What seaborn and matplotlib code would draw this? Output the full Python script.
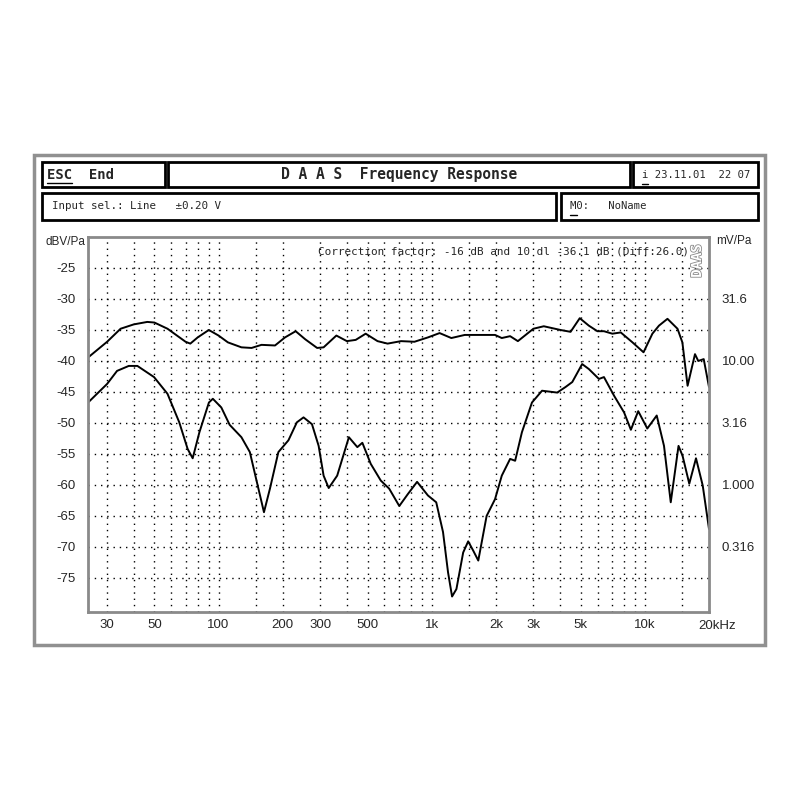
import numpy as np
import pandas as pd
import matplotlib
matplotlib.use("Agg")
import matplotlib.pyplot as plt
import matplotlib.patheffects as pe
from matplotlib.patches import Rectangle
from matplotlib.lines import Line2D
from matplotlib.ticker import FixedLocator, NullFormatter
import seaborn as sns

# =========================
# DATA
# =========================
upper_freq = [24.1, 30, 34.7, 40, 46.3, 50, 57.6, 70, 73.7, 79.8, 90, 100, 110.6, 128,
              142.8, 159, 184, 205, 230, 255, 290, 311, 357, 400, 440, 490, 557, 621,
              718, 830, 960, 1089, 1236, 1429, 1778, 1982, 2132, 2333, 2537, 3000, 3357,
              4020, 4483, 4950, 5460, 5990, 6430, 7040, 7710, 8750, 9860, 10850, 11650,
              12770, 14230, 15000, 15870, 17190, 17810, 18890, 20000]
upper_db = [-39.6, -36.9, -34.8, -34.1, -33.7, -33.8, -34.8, -36.9, -37.2, -36.2, -35.0,
            -35.9, -37.0, -37.8, -37.9, -37.4, -37.5, -36.2, -35.2, -36.5, -37.9, -37.8,
            -35.9, -36.8, -36.6, -35.6, -36.8, -37.2, -36.8, -36.9, -36.2, -35.5, -36.3,
            -35.8, -35.8, -35.8, -36.3, -36.0, -36.8, -34.8, -34.4, -35.0, -35.3, -33.1,
            -34.3, -35.2, -35.2, -35.6, -35.4, -37.0, -38.6, -35.6, -34.3, -33.2, -34.8,
            -37.0, -44.0, -38.9, -40.0, -39.7, -44.2]

lower_freq = [24.1, 30, 33.4, 37.9, 41.6, 49.8, 57.6, 65.4, 71.6, 75.6, 81.3, 90.1, 94,
              103, 112.7, 128, 140.2, 150.7, 163.3, 174.2, 190.8, 212.7, 233, 250.4,
              274.3, 294.8, 311, 328.7, 360.2, 408.7, 447.8, 472.8, 517.6, 577, 631.7,
              704.5, 771.9, 853.9, 960, 1050, 1130, 1193, 1246, 1306, 1405, 1483, 1566,
              1654, 1810, 1982, 2132, 2333, 2463, 2650, 2954, 3294, 3879, 4246, 4566,
              5080, 5460, 6090, 6430, 7170, 7990, 8600, 9310, 10270, 11370, 12300,
              13230, 14390, 15030, 16160, 17380, 18690, 20000]
lower_db = [-46.9, -43.7, -41.6, -40.8, -40.8, -42.6, -45.3, -49.9, -54.2, -55.7, -51.5,
            -46.7, -46.1, -47.5, -50.3, -52.3, -54.7, -59.3, -64.4, -60.6, -54.7, -52.8,
            -49.9, -49.1, -50.2, -53.7, -58.5, -60.5, -58.5, -52.3, -53.9, -53.2, -56.6,
            -59.3, -60.6, -63.4, -61.5, -59.5, -61.7, -62.8, -67.6, -74.1, -78.0, -76.8,
            -70.9, -69.1, -70.6, -72.2, -65.0, -62.3, -58.5, -55.8, -56.1, -51.5, -46.7,
            -44.8, -45.1, -44.2, -43.4, -40.5, -41.3, -42.9, -42.6, -45.6, -48.3, -51.1,
            -48.1, -50.9, -48.8, -53.7, -62.8, -53.7, -55.3, -59.8, -55.7, -60.1, -67.1]

x_ticks = [30, 50, 100, 200, 300, 500, 1000, 2000, 3000, 5000, 10000]
x_ticklabels = ["30", "50", "100", "200", "300", "500", "1k", "2k", "3k", "5k", "10k"]
x_grid = [30, 40, 50, 60, 70, 80, 90, 100, 150, 200, 300, 400, 500, 600, 700, 800, 900,
          1000, 1500, 2000, 3000, 4000, 5000, 6000, 7000, 8000, 9000, 10000, 15000]
y_ticks = [-25, -30, -35, -40, -45, -50, -55, -60, -65, -70, -75]
y_ticklabels = ["-25", "-30", "-35", "-40", "-45", "-50", "-55", "-60", "-65", "-70", "-75"]
mv_ticks = [-30, -40, -50, -60, -70]
mv_labels = ["31.6", "10.00", "3.16", "1.000", "0.316"]

df = pd.concat([
    pd.DataFrame({"freq": upper_freq, "level": upper_db, "curve": "upper"}),
    pd.DataFrame({"freq": lower_freq, "level": lower_db, "curve": "lower"}),
])

# =========================
# FIGURE
# =========================
sns.set_style("white")
plt.rcParams["font.family"] = ["Liberation Sans", "DejaVu Sans"]
MONO = "DejaVu Sans Mono"

W = H = 800
fig = plt.figure(figsize=(8, 8), dpi=100)
fig.patch.set_facecolor("white")


def fx(x):
    return x / W


def fy(y):
    return 1 - y / H


def box(x0, y0, x1, y1, color="black", lw=2.0):
    fig.add_artist(Rectangle((fx(x0), fy(y1)), fx(x1) - fx(x0), fy(y0) - fy(y1),
                             transform=fig.transFigure, fill=False,
                             edgecolor=color, linewidth=lw))


def uline(x0, x1, y):
    fig.add_artist(Line2D([fx(x0), fx(x1)], [fy(y), fy(y)], transform=fig.transFigure,
                          color="black", linewidth=1.0))


# outer frame + header boxes
box(34, 155, 765, 645, color="#909090", lw=2.5)
box(42, 162, 165, 187)
box(168, 162, 630, 187)
box(633, 162, 758, 187)
box(42, 193, 556, 220)
box(561, 193, 758, 220)

fig.text(fx(47), fy(175), "ESC  End", family=MONO, fontsize=10, fontweight="bold",
         ha="left", va="center")
uline(47, 72, 183)
fig.text(fx(399), fy(175), "D A A S  Frequency Response", family=MONO, fontsize=10.5,
         fontweight="bold", ha="center", va="center")
fig.text(fx(642), fy(175), "i 23.11.01  22 07", family=MONO, fontsize=7.6,
         ha="left", va="center")
uline(642, 648, 184)
fig.text(fx(52), fy(206), "Input sel.: Line   \u00b10.20 V", family=MONO, fontsize=7.8,
         ha="left", va="center")
fig.text(fx(570), fy(206), "M0:   NoName", family=MONO, fontsize=7.6,
         ha="left", va="center")
uline(570, 577, 215)

# =========================
# PLOT AREA
# =========================
ax = fig.add_axes([fx(88), fy(612), fx(709) - fx(88), fy(237) - fy(612)])
sns.lineplot(data=df, x="freq", y="level", units="curve", estimator=None, sort=False,
             color="black", linewidth=1.4, ax=ax, legend=False)

ax.set_xscale("log")
ax.set_xlim(24.4, 20000)
ax.set_ylim(-80.5, -20)

ax.xaxis.set_major_locator(FixedLocator(x_ticks))
ax.set_xticklabels(x_ticklabels)
ax.xaxis.set_minor_locator(FixedLocator(x_grid))
ax.xaxis.set_minor_formatter(NullFormatter())
ax.set_yticks(y_ticks)
ax.set_yticklabels(y_ticklabels)

grid_kw = dict(color="black", linestyle=(0, (1, 3.5)), linewidth=1.0)
ax.grid(False)
# majors hide coinciding minors, so the grid runs on both
ax.xaxis.grid(True, which="both", **grid_kw)
ax.yaxis.grid(True, which="major", **grid_kw)
ax.set_axisbelow(True)

ax.tick_params(axis="both", which="both", length=0, labelsize=9.5)
ax.tick_params(axis="y", pad=9)
ax.tick_params(axis="x", pad=5)
ax.set_xlabel("")
ax.set_ylabel("")
for s in ax.spines.values():
    s.set_color("#8a8a8a")
    s.set_linewidth(2.0)

ax.annotate("20kHz", xy=(1, 0), xycoords="axes fraction", xytext=(-8, -5.5),
            textcoords="offset points", ha="left", va="top", fontsize=9.5)

# right-hand mV/Pa scale
ax2 = ax.twinx()
ax2.set_ylim(ax.get_ylim())
ax2.set_yticks(mv_ticks)
ax2.set_yticklabels(mv_labels)
ax2.tick_params(length=0, labelsize=9.5, pad=9)
for s in ax2.spines.values():
    s.set_visible(False)
ax2.grid(False)

fig.text(fx(45), fy(242), "dBV/Pa", fontsize=8.5, ha="left", va="center")
fig.text(fx(716), fy(241), "mV/Pa", fontsize=8.5, ha="left", va="center")

ax.text(fx(318), fy(251), "Correction factor: -16 dB and 10 dl -36.1 dB (Diff:26.0)",
        transform=fig.transFigure, family=MONO, fontsize=7.9, ha="left", va="center")
t = fig.text(fx(697), fy(261), "DAAS", family=MONO, fontsize=10, rotation=90,
             ha="center", va="center", color="white", fontweight="bold")
t.set_path_effects([pe.withStroke(linewidth=1.2, foreground="#8a8a8a")])

plt.savefig("out.png", dpi=100)
